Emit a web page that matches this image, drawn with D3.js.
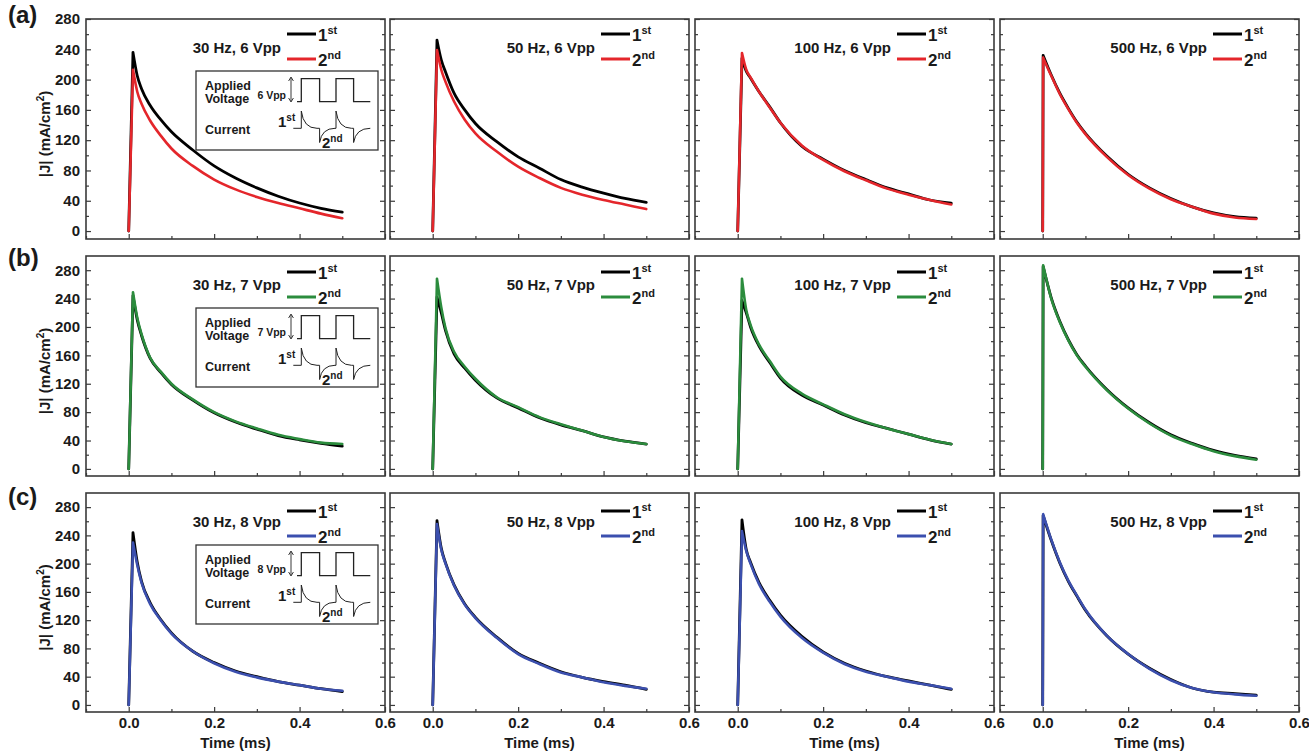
<!DOCTYPE html>
<html><head><meta charset="utf-8">
<script src="https://cdn.jsdelivr.net/npm/d3@7"></script>
<style>
body{margin:0;background:#fff}
svg{display:block}
text{font-family:"Liberation Sans",Arial,sans-serif;font-weight:bold;fill:#1a1a1a}
</style>
</head><body>
<svg id="chart" width="1309" height="753"></svg>
<script>
// ---------------- DATA ----------------
const frequencies = ["30 Hz", "50 Hz", "100 Hz", "500 Hz"];
const voltages = ["6 Vpp", "7 Vpp", "8 Vpp"];
const rowLabels = ["(a)", "(b)", "(c)"];
const xTickValues = [0.0, 0.2, 0.4, 0.6];
const xMinorValues = [-0.1, 0.1, 0.3, 0.5];
const yTickValues = [0, 40, 80, 120, 160, 200, 240, 280];
const yMinorValues = [20, 60, 100, 140, 180, 220, 260];

// time (ms) for 30/50/100 Hz traces and for 500 Hz traces
const timeSlow = [0, 0.01, 0.02, 0.03, 0.05, 0.075, 0.1, 0.15, 0.2, 0.25, 0.3, 0.35, 0.4, 0.45, 0.5];
const timeFast = [0, 0.001, 0.02, 0.04, 0.06, 0.08, 0.1, 0.15, 0.2, 0.25, 0.3, 0.35, 0.4, 0.45, 0.5];

// |J| (mA/cm2), 6 Vpp
const first_6V_30Hz   = [0, 236, 205, 188, 166, 147, 131, 107, 86, 70, 57, 46, 37, 30, 25];
const second_6V_30Hz  = [0, 213, 184, 168, 146, 126, 109, 86, 68, 55, 45, 37, 30, 23, 17];
const first_6V_50Hz   = [0, 252, 226, 210, 182, 160, 142, 118, 98, 83, 68, 58, 50, 43, 38];
const second_6V_50Hz  = [0, 239, 213, 197, 171, 147, 129, 105, 85, 70, 57, 48, 41, 35, 29];
const first_6V_100Hz  = [0, 228, 211, 202, 184, 164, 143, 112, 95, 80, 68, 57, 49, 41, 37];
const second_6V_100Hz = [0, 235, 213, 203, 184, 163, 143, 113, 94, 79, 67, 56, 48, 41, 35];
const first_6V_500Hz  = [0, 232, 206, 182, 162, 144, 129, 99, 75, 57, 43, 32, 24, 19, 17];
const second_6V_500Hz = [0, 229, 205, 181, 161, 143, 128, 98, 74, 56, 42, 32, 23, 18, 16];
// 7 Vpp
const first_7V_30Hz   = [0, 244, 210, 188, 156, 136, 119, 97, 79, 66, 56, 47, 41, 36, 32];
const second_7V_30Hz  = [0, 249, 213, 190, 157, 137, 120, 98, 80, 67, 57, 48, 42, 37, 35];
const first_7V_50Hz   = [0, 242, 220, 195, 162, 142, 125, 100, 86, 72, 62, 54, 45, 39, 35];
const second_7V_50Hz  = [0, 268, 228, 198, 165, 144, 127, 101, 87, 73, 63, 54, 45, 39, 35];
const first_7V_100Hz  = [0, 237, 220, 200, 173, 150, 128, 104, 90, 76, 65, 57, 49, 41, 35];
const second_7V_100Hz = [0, 268, 224, 203, 175, 152, 130, 106, 91, 77, 66, 57, 49, 41, 35];
const first_7V_500Hz  = [0, 285, 241, 208, 182, 161, 145, 112, 86, 65, 48, 36, 26, 19, 14];
const second_7V_500Hz = [0, 287, 240, 207, 181, 160, 144, 111, 85, 64, 47, 35, 25, 18, 13];
// 8 Vpp
const first_8V_30Hz   = [0, 244, 202, 175, 145, 121, 102, 76, 60, 48, 40, 33, 28, 23, 19];
const second_8V_30Hz  = [0, 230, 198, 173, 143, 120, 101, 76, 59, 47, 39, 33, 28, 23, 20];
const first_8V_50Hz   = [0, 261, 222, 201, 170, 143, 124, 96, 73, 59, 47, 39, 33, 28, 22];
const second_8V_50Hz  = [0, 256, 220, 200, 169, 142, 123, 95, 72, 58, 46, 39, 32, 27, 23];
const first_8V_100Hz  = [0, 262, 220, 202, 173, 148, 127, 97, 75, 59, 48, 40, 34, 28, 22];
const second_8V_100Hz = [0, 246, 218, 200, 171, 146, 125, 95, 74, 58, 47, 40, 33, 28, 23];
const first_8V_500Hz  = [0, 268, 233, 201, 175, 154, 134, 98, 72, 52, 36, 24, 18, 16, 14];
const second_8V_500Hz = [0, 270, 234, 202, 176, 155, 135, 98, 72, 51, 35, 24, 18, 15, 13];

const firstSeries = [
  [first_6V_30Hz, first_6V_50Hz, first_6V_100Hz, first_6V_500Hz],
  [first_7V_30Hz, first_7V_50Hz, first_7V_100Hz, first_7V_500Hz],
  [first_8V_30Hz, first_8V_50Hz, first_8V_100Hz, first_8V_500Hz]
];
const secondSeries = [
  [second_6V_30Hz, second_6V_50Hz, second_6V_100Hz, second_6V_500Hz],
  [second_7V_30Hz, second_7V_50Hz, second_7V_100Hz, second_7V_500Hz],
  [second_8V_30Hz, second_8V_50Hz, second_8V_100Hz, second_8V_500Hz]
];
const timeByColumn = [timeSlow, timeSlow, timeSlow, timeFast];

// ---------------- LAYOUT / STYLE ----------------
const svg = d3.select("#chart");
const FONT = '"Liberation Sans", Arial, sans-serif';
const colLefts = [86, 390, 695, 1000];
const panelW = 299;
const rowTops = [19, 256, 493];
const panelHs = [220, 220, 219];
const yDomains = [[-10.5, 280], [-10, 300], [-10, 300]];
const rowColors = ["#e4262b", "#2b8c3d", "#3b4fae"];
const legendOffsets = [201, 211, 202, 213];
const legendTop = [15, 16, 18];
const rowLabelBaselines = [23, 266, 505];
const frameColor = "#3a3a3a";

function styleAxis(g, size) {
  g.attr("font-family", FONT).attr("font-weight", "bold").attr("font-size", size);
  g.select(".domain").remove();
  g.selectAll(".tick line").attr("stroke", frameColor).attr("stroke-width", 1.2);
  g.selectAll(".tick text").attr("fill", "#1a1a1a");
}

function drawInset(bx, by, vppText) {
  const g = svg.append("g").attr("transform", `translate(${bx},${by})`);
  g.append("rect").attr("x", 0).attr("y", 0).attr("width", 182).attr("height", 79)
    .attr("fill", "#fff").attr("stroke", "#333").attr("stroke-width", 1.3);
  g.append("text").attr("x", 9).attr("y", 18.5).attr("font-size", 12.5).text("Applied");
  g.append("text").attr("x", 9).attr("y", 31.6).attr("font-size", 12.5).text("Voltage");
  g.append("text").attr("x", 9).attr("y", 62.6).attr("font-size", 12.5).text("Current");
  g.append("text").attr("x", 90).attr("y", 28).attr("font-size", 10.5).attr("text-anchor", "end").text(vppText);
  g.append("line").attr("x1", 95).attr("x2", 95).attr("y1", 7).attr("y2", 30)
    .attr("stroke", "#222").attr("stroke-width", 0.9);
  g.append("path").attr("d", "M92.6,10 L95,6 L97.4,10 M92.6,27 L95,31 L97.4,27")
    .attr("fill", "none").attr("stroke", "#222").attr("stroke-width", 0.9);
  const sq = [[101, 30.6], [105.3, 30.6], [105.3, 7.6], [123.6, 7.6], [123.6, 30.6], [140, 30.6],
              [140, 7.6], [157.6, 7.6], [157.6, 30.6], [174.3, 30.6]];
  g.append("path").attr("d", d3.line()(sq)).attr("fill", "none").attr("stroke", "#222").attr("stroke-width", 1.3);
  const m = 57.3, up = 40, dn = 71.5;
  const cur = `M97.3,${m} L105.3,${m} L105.3,${up} Q107.5,${m} 121,${m} L123.6,${m} L123.6,${dn} Q125.8,${m} 139,${m}` +
              ` L140,${m} L140,${up} Q142.2,${m} 155.5,${m} L157.6,${m} L157.6,${dn} Q159.8,${m} 174.3,${m}`;
  g.append("path").attr("d", cur).attr("fill", "none").attr("stroke", "#222").attr("stroke-width", 1);
  const t1 = g.append("text").attr("x", 82).attr("y", 55.5).attr("font-size", 15);
  t1.append("tspan").text("1");
  t1.append("tspan").attr("font-size", 10).attr("dy", -6).text("st");
  const t2 = g.append("text").attr("x", 126).attr("y", 76.5).attr("font-size", 15);
  t2.append("tspan").text("2");
  t2.append("tspan").attr("font-size", 10).attr("dy", -6).text("nd");
}

rowLabels.forEach((lab, ri) => {
  svg.append("text").attr("x", 8).attr("y", rowLabelBaselines[ri]).attr("font-size", 24).text(lab);
});

voltages.forEach((volt, ri) => {
  const top = rowTops[ri], h = panelHs[ri], bottom = top + h;
  frequencies.forEach((freq, ci) => {
    const left = colLefts[ci], right = left + panelW;
    const x = d3.scaleLinear().domain([-0.1, 0.6]).range([left, right]);
    const y = d3.scaleLinear().domain(yDomains[ri]).range([bottom, top]);

    const gl = svg.append("g").attr("transform", `translate(${left},0)`)
      .call(d3.axisLeft(y).tickValues(yTickValues).tickSize(-5).tickPadding(6)
        .tickFormat(ci === 0 ? d3.format("d") : () => ""));
    styleAxis(gl, 15);
    const glm = svg.append("g").attr("transform", `translate(${left},0)`)
      .call(d3.axisLeft(y).tickValues(yMinorValues).tickSize(-3).tickFormat(() => ""));
    styleAxis(glm, 15);
    const gr = svg.append("g").attr("transform", `translate(${right},0)`)
      .call(d3.axisRight(y).tickValues(yTickValues).tickSize(-5).tickFormat(() => ""));
    styleAxis(gr, 15);
    const grm = svg.append("g").attr("transform", `translate(${right},0)`)
      .call(d3.axisRight(y).tickValues(yMinorValues).tickSize(-3).tickFormat(() => ""));
    styleAxis(grm, 15);
    const gb = svg.append("g").attr("transform", `translate(0,${bottom})`)
      .call(d3.axisBottom(x).tickValues(xTickValues).tickSize(-5).tickPadding(5)
        .tickFormat(ri === 2 ? d3.format(".1f") : () => ""));
    styleAxis(gb, 15);
    const gbm = svg.append("g").attr("transform", `translate(0,${bottom})`)
      .call(d3.axisBottom(x).tickValues(xMinorValues).tickSize(-3).tickFormat(() => ""));
    styleAxis(gbm, 15);

    svg.append("rect").attr("x", left).attr("y", top).attr("width", panelW).attr("height", h)
      .attr("fill", "none").attr("stroke", frameColor).attr("stroke-width", 1.6);

    // curves: straight rise to the peak, smooth decay after it
    const times = timeByColumn[ci];
    const rise = d3.line().x(d => x(d[0])).y(d => y(d[1]));
    const decay = d3.line().x(d => x(d[0])).y(d => y(d[1])).curve(d3.curveMonotoneX);
    const pathFor = s => rise(s.slice(0, 2)) + decay(s.slice(1));
    const s1 = times.map((t, i) => [t, firstSeries[ri][ci][i]]);
    const s2 = times.map((t, i) => [t, secondSeries[ri][ci][i]]);
    svg.append("path").attr("d", pathFor(s1)).attr("fill", "none").attr("stroke", "#000")
      .attr("stroke-width", 2.8).attr("stroke-linejoin", "round").attr("stroke-linecap", "round");
    svg.append("path").attr("d", pathFor(s2)).attr("fill", "none").attr("stroke", rowColors[ri])
      .attr("stroke-width", 2.6).attr("stroke-linejoin", "round").attr("stroke-linecap", "round");

    const lx = left + legendOffsets[ci];
    const ly1 = top + legendTop[ri], ly2 = ly1 + 25;
    svg.append("line").attr("x1", lx).attr("x2", lx + 29).attr("y1", ly1).attr("y2", ly1)
      .attr("stroke", "#000").attr("stroke-width", 3);
    svg.append("line").attr("x1", lx).attr("x2", lx + 29).attr("y1", ly2).attr("y2", ly2)
      .attr("stroke", rowColors[ri]).attr("stroke-width", 3);
    const lt1 = svg.append("text").attr("x", lx + 31).attr("y", ly1 + 6.5).attr("font-size", 17);
    lt1.append("tspan").text("1");
    lt1.append("tspan").attr("font-size", 11).attr("dy", -7).text("st");
    const lt2 = svg.append("text").attr("x", lx + 31).attr("y", ly2 + 6.5).attr("font-size", 17);
    lt2.append("tspan").text("2");
    lt2.append("tspan").attr("font-size", 11).attr("dy", -7).text("nd");

    svg.append("text").attr("x", lx - 6).attr("y", top + 34).attr("font-size", 15)
      .attr("text-anchor", "end").text(`${freq}, ${volt}`);

    if (ci === 0) {
      drawInset(left + 110, top + 52, volt);
      const yl = svg.append("text").attr("font-size", 15).attr("text-anchor", "middle")
        .attr("transform", `translate(50,${top + h / 2 + 5}) rotate(-90)`);
      yl.append("tspan").text("|J| (mA/cm");
      yl.append("tspan").attr("font-size", 10).attr("dy", -6).text("2");
      yl.append("tspan").attr("dy", 6).text(")");
    }
    if (ri === 2) {
      svg.append("text").attr("x", (left + right) / 2).attr("y", 748).attr("font-size", 15)
        .attr("text-anchor", "middle").text("Time (ms)");
    }
  });
});
</script>
</body></html>
